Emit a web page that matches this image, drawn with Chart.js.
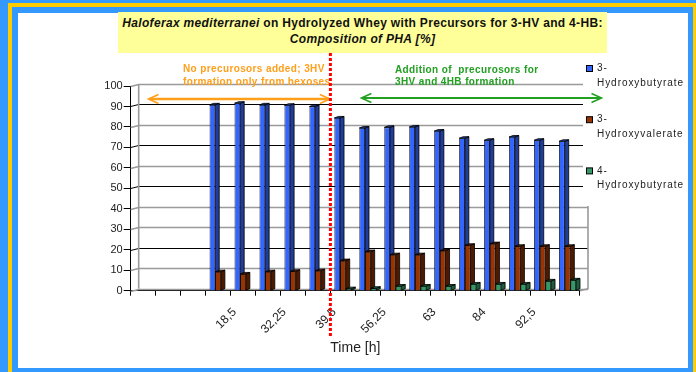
<!DOCTYPE html>
<html><head><meta charset="utf-8">
<script src="https://cdn.jsdelivr.net/npm/chart.js@4.4.1/dist/chart.umd.min.js"></script>
<style>
html,body{margin:0;padding:0;width:696px;height:372px;overflow:hidden;background:#3399FF;}
.f{position:absolute;}
#title{position:absolute;left:118px;top:12px;width:489px;height:41px;background:#FFFF99;font-family:"Liberation Sans",Arial,sans-serif;font-weight:bold;font-size:12px;letter-spacing:0.33px;color:#111;text-align:center;line-height:16px;padding-top:3px;box-sizing:border-box;white-space:nowrap;}
</style></head><body>
<div class="f" style="left:8px;top:3px;width:700px;height:400px;background:#FFCC00"></div>
<div class="f" style="left:12px;top:7px;width:681px;height:400px;background:#3399FF"></div>
<div class="f" style="left:18px;top:13px;width:670px;height:355px;background:#fff"></div>
<canvas id="c" width="696" height="372" style="position:absolute;left:0;top:0;width:696px;height:372px"></canvas>
<div id="title"><i>Haloferax mediterranei</i> on Hydrolyzed Whey with Precursors for 3-HV and 4-HB:<br><i>Composition of PHA [%]</i></div>
<script>
// ---- data ----
const categories = ["", "", "", "", "18,5", "", "32,25", "", "39,5", "", "56,25", "", "63", "", "84", "", "92,5", ""];
const hydroxybutyrate3 = [null, null, null, 90.8, 91.6, 90.8, 90.6, 90.0, 84.4, 79.5, 79.8, 80.0, 78.0, 74.5, 73.5, 75.1, 73.5, 73.0];
const hydroxyvalerate3 = [null, null, null, 9.3, 8.2, 9.3, 9.5, 9.8, 14.7, 19.1, 17.6, 17.6, 19.6, 22.2, 23.0, 21.7, 21.7, 21.7];
const hydroxybutyrate4 = [null, null, null, null, null, null, null, null, 1.0, 1.2, 2.3, 2.3, 2.3, 3.3, 3.3, 3.3, 4.8, 5.3];
const seriesLabels = ["3-Hydroxybutyrate", "3-Hydroxyvalerate", "4-Hydroxybutyrate"];
const xAxisTitle = "Time [h]";
const noteLeft = ["No precurosors added; 3HV", "formation only from hexoses"];
const noteRight = ["Addition of  precurosors for", "3HV and 4HB formation"];

const FONT = '"Liberation Sans", Arial, sans-serif';
const DX = 4, DY = 1.5;

const threeD = {
  id: 'threeD',
  beforeDatasetsDraw(chart) {
    const ctx = chart.ctx, ys = chart.scales.y, xs = chart.scales.x;
    const L = xs.left, WL = L + 8, WR = xs.right + 8, off = 2;
    ctx.save();
    for (let v = 0; v <= 100; v += 10) {
      const py = Math.round(ys.getPixelForValue(v)) + 0.5;
      const dark = [20, 50, 70, 90].includes(v);
      ctx.strokeStyle = dark ? '#000' : '#9a9a9a';
      ctx.lineWidth = dark ? 1 : 1.6;
      ctx.beginPath(); ctx.moveTo(L, py); ctx.lineTo(WL, py - off); ctx.lineTo(WR, py - off); ctx.stroke();
    }
    ctx.strokeStyle = '#9a9a9a'; ctx.lineWidth = 1.6;
    const yTop = ys.getPixelForValue(100) - off, yBot = ys.getPixelForValue(0) - off;
    ctx.beginPath(); ctx.moveTo(WL, yTop); ctx.lineTo(WL, yBot); ctx.stroke();
    ctx.beginPath(); ctx.moveTo(WR, yTop); ctx.lineTo(WR, yBot); ctx.lineTo(xs.right, yBot + off); ctx.stroke();
    chart.data.datasets.forEach((ds, i) => {
      const meta = chart.getDatasetMeta(i);
      meta.data.forEach((el, j) => {
        if (ds.data[j] == null) return;
        const p = el.getProps(['x', 'y', 'base', 'width'], true);
        const l = p.x - p.width / 2, r = p.x + p.width / 2, t = p.y, b = p.base;
        ctx.strokeStyle = '#000'; ctx.lineWidth = 0.8;
        ctx.fillStyle = ds.sideColor;
        ctx.beginPath(); ctx.moveTo(r, t); ctx.lineTo(r + DX, t - DY); ctx.lineTo(r + DX, b - DY); ctx.lineTo(r, b); ctx.closePath(); ctx.fill(); ctx.stroke();
        ctx.fillStyle = ds.topColor;
        ctx.beginPath(); ctx.moveTo(l, t); ctx.lineTo(r, t); ctx.lineTo(r + DX, t - DY); ctx.lineTo(l + DX, t - DY); ctx.closePath(); ctx.fill(); ctx.stroke();
      });
    });
    ctx.restore();
  }
};

function arrow(ctx, x1, x2, y, color, lw) {
  ctx.strokeStyle = color; ctx.lineWidth = lw;
  ctx.beginPath(); ctx.moveTo(x1 + 1, y); ctx.lineTo(x2 - 1, y); ctx.stroke();
  ctx.lineWidth = 1.6;
  ctx.beginPath(); ctx.moveTo(x1 + 10, y - 4.5); ctx.lineTo(x1, y); ctx.lineTo(x1 + 10, y + 4.5); ctx.stroke();
  ctx.beginPath(); ctx.moveTo(x2 - 10, y - 4.5); ctx.lineTo(x2, y); ctx.lineTo(x2 - 10, y + 4.5); ctx.stroke();
}

const overlay = {
  id: 'overlay',
  afterDraw(chart) {
    const ctx = chart.ctx, xs = chart.scales.x;
    ctx.save();
    // legend box
    ctx.fillStyle = '#fff'; ctx.fillRect(583, 55, 105, 151);
    ctx.font = '10px ' + FONT; ctx.textBaseline = 'middle'; ctx.textAlign = 'left';
    ctx.letterSpacing = '0.95px';
    chart.data.datasets.forEach((ds, i) => {
      const y = 68.5 + i * 51.2;
      ctx.fillStyle = ds.backgroundColor; ctx.fillRect(586.5, y - 3, 6, 6);
      ctx.strokeStyle = '#000'; ctx.lineWidth = 1; ctx.strokeRect(586.5, y - 3, 6, 6);
      const k = ds.label.indexOf('-') + 1;
      ctx.fillStyle = '#222';
      ctx.fillText(ds.label.slice(0, k), 597, y);
      ctx.fillText(ds.label.slice(k), 597, y + 14.5);
    });
    ctx.letterSpacing = '0.38px';
    // annotations
    ctx.font = 'bold 10px ' + FONT;
    ctx.fillStyle = '#FF9F1A';
    ctx.fillText(noteLeft[0], 183, 69.5); ctx.fillText(noteLeft[1], 183, 82.5);
    ctx.fillStyle = '#22A022';
    ctx.fillText(noteRight[0], 395, 70); ctx.fillText(noteRight[1], 395, 82.5);
    ctx.letterSpacing = '0px';
    const splitX = (xs.getPixelForValue(7) + xs.getPixelForValue(8)) / 2;
    arrow(ctx, 148.5, splitX - 0.5, 99, '#FF9F1A', 2.5);
    arrow(ctx, splitX + 31, 601.5, 98, '#22A022', 2);
    // red dotted separator
    ctx.strokeStyle = '#FF0000'; ctx.lineWidth = 3; ctx.setLineDash([3, 2]);
    ctx.beginPath(); ctx.moveTo(splitX, 53); ctx.lineTo(splitX, 337); ctx.stroke();
    ctx.restore();
  }
};

const mk = (label, data, front, side, top) => ({
  label, data, backgroundColor: front, sideColor: side, topColor: top,
  borderColor: '#000', borderWidth: 0.8, barPercentage: 1, categoryPercentage: 0.68
});

new Chart(document.getElementById('c'), {
  type: 'bar',
  data: {
    labels: categories,
    datasets: [
      mk(seriesLabels[0], hydroxybutyrate3, '#3366FF', '#1F3D99', '#2447B8'),
      mk(seriesLabels[1], hydroxyvalerate3, '#993300', '#4D1A00', '#6B2400'),
      mk(seriesLabels[2], hydroxybutyrate4, '#339966', '#1F5C3D', '#267350')
    ]
  },
  options: {
    responsive: false, animation: false, devicePixelRatio: 1,
    layout: { padding: { left: 0, top: 86, right: 116, bottom: 0 } },
    plugins: { legend: { display: false }, tooltip: { enabled: false } },
    scales: {
      x: {
        offset: true,
        grid: { offset: true, drawOnChartArea: false, drawTicks: true, tickLength: 5, color: '#000' },
        border: { color: '#000', width: 1 },
        ticks: {
          autoSkip: false, maxRotation: 45, minRotation: 45, padding: 1, color: '#222',
          font: { family: FONT, size: 12 },
          callback: function (v, i) { const s = this.getLabelForValue(v); return s ? s + '\u2002\u2002' : ''; }
        },
        title: { display: true, text: xAxisTitle, color: '#222', font: { family: FONT, size: 14 }, padding: { top: 0, bottom: 15 } },
        afterFit: s => { s.height = 81.3; }
      },
      y: {
        min: 0, max: 100,
        grid: { drawOnChartArea: false, drawTicks: true, tickLength: 7, color: '#000' },
        border: { color: '#000', width: 1 },
        ticks: { stepSize: 10, padding: 1, color: '#222', font: { family: FONT, size: 11 } },
        afterFit: s => { s.width = 130.7; }
      }
    }
  },
  plugins: [threeD, overlay]
});
</script>
</body></html>
